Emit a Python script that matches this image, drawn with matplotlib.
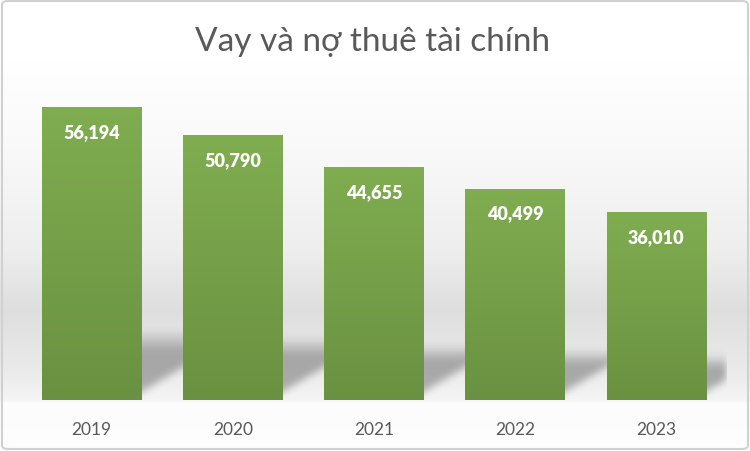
import matplotlib
matplotlib.use("Agg")
import matplotlib.pyplot as plt
from matplotlib.patches import FancyBboxPatch
import numpy as np

plt.rcParams['font.family'] = ['Lato', 'Open Sans', 'DejaVu Sans']

years = ["2019", "2020", "2021", "2022", "2023"]
values = [56194, 50790, 44655, 40499, 36010]
title = "Vay và nợ thuê tài chính"

W, H, DPI = 750, 452, 100
fig = plt.figure(figsize=(W / DPI, H / DPI), dpi=DPI)

# background: soft vertical gradient with a light grey "floor" band
bg = fig.add_axes([0, 0, 1, 1], zorder=-10)
rows = np.arange(H)
levels = np.interp(rows, [0, 60, 150, 250, 310, 370, 400, 404, 452],
                   [255, 255, 249, 238, 222, 234, 244, 252, 254]) / 255
bg_img = np.repeat(levels[:, None], 4, axis=1)
bg.imshow(np.dstack([bg_img] * 3), aspect="auto", extent=(0, 1, 0, 1),
          origin="upper")
bg.set_axis_off()

# plot area
ax = fig.add_axes([21 / W, (H - 401) / H, 706 / W, 313 / H])
ax.set_xlim(-0.5, len(years) - 0.5)
ax.set_ylim(0, 60000)
ax.patch.set_alpha(0)
for s in ax.spines.values():
    s.set_visible(False)
ax.set_yticks([])
x = np.arange(len(years))
ax.set_xticks(x)
ax.set_xticklabels(years, fontsize=12.5, color="#595959")
ax.tick_params(axis="x", length=0, pad=15)

bw = 0.704

# cast shadows behind the bars (built on a pixel grid, then blurred)
nx, ny = 706, 313
gx = np.linspace(-0.5, len(years) - 0.5, nx)
gy = np.linspace(60000, 0, ny)
XX, YY = np.meshgrid(gx, gy)
mask = np.zeros((ny, nx))
for i, v in enumerate(values):
    right = i + bw / 2
    top = 0.24 * v
    low = 1500 + (XX - right) * 16000
    inside = (XX >= right - 0.05) & (XX <= right + 0.4) & (YY <= top) & (YY >= low)
    shade = np.clip((top - YY) / (0.3 * top), 0, 1)
    mask = np.maximum(mask, inside * shade)
k = np.ones(9) / 9
for _ in range(2):
    mask = np.apply_along_axis(lambda r: np.convolve(r, k, mode="same"), 1, mask)
    mask = np.apply_along_axis(lambda c: np.convolve(c, k, mode="same"), 0, mask)
shadow = np.zeros((ny, nx, 4))
shadow[..., :3] = 0.4
shadow[..., 3] = mask * 0.5
ax.imshow(shadow, aspect="auto", extent=(-0.5, len(years) - 0.5, 0, 60000),
          zorder=1, interpolation="bilinear")

# bars with a vertical green gradient
top_c = np.array([0x80, 0xad, 0x50]) / 255
bot_c = np.array([0x6a, 0x91, 0x41]) / 255
grad = np.linspace(0, 1, 100)[:, None]
grad_img = top_c[None, None, :] * (1 - grad[..., None]) + bot_c[None, None, :] * grad[..., None]
grad_img = np.repeat(grad_img, 2, axis=1)

bars = ax.bar(x, values, width=bw, color="#76a049", zorder=2)
for b in bars:
    im = ax.imshow(grad_img, aspect="auto", zorder=3,
                   extent=(b.get_x(), b.get_x() + b.get_width(), 0, b.get_height()))
    im.set_clip_path(b)
    ax.annotate(f"{b.get_height():,.0f}", (b.get_x() + b.get_width() / 2, b.get_height()),
                xytext=(0, -17.5), textcoords="offset points", ha="center", va="center",
                fontsize=13, fontweight="heavy", color="white", zorder=4)
ax.set_xlim(-0.5, len(years) - 0.5)
ax.set_ylim(0, 60000)

fig.text(0.497, 1 - 42 / H, title, ha="center", va="center", fontsize=24, color="#595959")

# rounded frame around the chart
frame = FancyBboxPatch((2 / W, 2 / H), 1 - 4 / W, 1 - 4 / H, boxstyle="round,pad=0,rounding_size=0.008",
                       transform=fig.transFigure, facecolor="none", edgecolor="#d0d0d0", linewidth=1.5)
fig.patches.append(frame)

fig.savefig("out.png", dpi=DPI)
